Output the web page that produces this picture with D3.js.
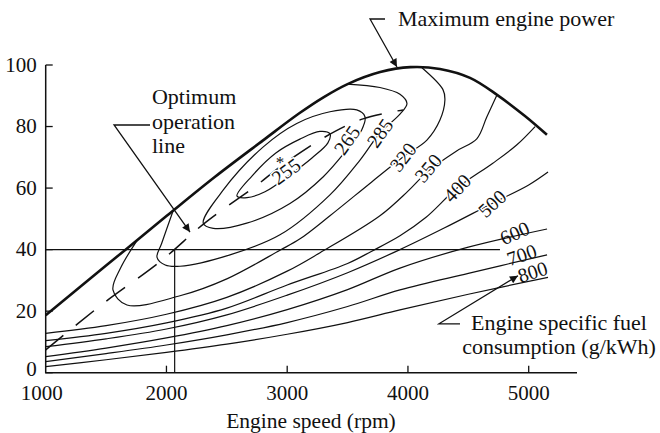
<!DOCTYPE html>
<html><head><meta charset="utf-8">
<script src="https://cdn.jsdelivr.net/npm/d3@7"></script>
<style>
body{margin:0;background:#fff}
svg{display:block}
text{font-family:"Liberation Serif","Times New Roman",serif;fill:#111}
</style></head><body>
<svg id="chart" width="660" height="433"></svg>
<script>
// ---- data (engine speed rpm, % of power) ----
const xTicks = [1000, 2000, 3000, 4000, 5000];
const yTicks = [0, 20, 40, 60, 80, 100];

const maxPower = [[1000,18.7],[1500,34.8],[2000,50.9],[2400,63.6],[2800,75.5],[3100,84.3],[3300,89.5],[3500,93.8],[3770,97.7],[4020,99.3],[4265,98.7],[4514,95.8],[4738,90.3],[4969,83.4],[5151,77.3]];

const optimumLine = [[1000,7.4],[1450,21.7],[1963,36.6],[2319,48.7],[2750,61],[2940,66.9],[3313,76.6],[3628,82.5],[3959,85.4]];

const c255 = [[2584,57.4],[2708,63.9],[2906,71.4],[3105,75.9],[3271,78.4],[3354,77.6],[3337,74.7],[3205,69.8],[3023,64.3],[2816,58.8],[2667,56.9]];
const c265 = [[2305,48.6],[2471,59.4],[2802,73.4],[3079,81],[3354,84.8],[3576,85.4],[3644,83.2],[3617,78.9],[3493,72.4],[3299,63.7],[3023,55],[2665,48.6],[2388,46.9]];
const c285 = [[2056,52.7],[1960,42],[1922,37.5],[1990,35],[2112,34.6],[2526,38.3],[2940,44.8],[3354,57.8],[3603,69.1],[3768,77.9],[3934,84],[3992,87.5],[3934,90.5],[3768,92.7],[3495,93.8]];
const c320 = [[1757,43],[1620,34],[1557,26.9],[1673,22],[2112,25],[2500,30.5],[2940,39.8],[3106,43.5],[3354,51],[3700,62],[3959,70.1],[4157,75.6],[4265,82.1],[4306,88.6],[4290,92],[4116,99.1]];
const c350 = [[1000,12.8],[1500,15.3],[2000,19],[2500,24.5],[3000,33],[3272,39],[3768,51],[4000,59],[4167,65.5],[4400,72],[4570,76],[4652,83],[4738,90.3]];
const c400 = [[1000,10.4],[1500,12.8],[2000,16.2],[2500,21],[3000,28.5],[3500,35.5],[3700,39.5],[3934,44.5],[4150,50.5],[4407,60],[4700,68],[4900,74],[5053,80]];
const c500 = [[1000,8.45],[1500,11],[2000,14.2],[2500,18.8],[3000,25.2],[3500,32.5],[3934,40],[4300,47],[4697,55],[5000,61],[5160,65.2]];
const c600 = [[1000,5.2],[1500,8],[2000,11.3],[2500,15.3],[3000,20.5],[3500,27],[3934,34],[4500,40.8],[5152,46.7]];
const c700 = [[1000,3.6],[1500,6.2],[2000,9],[2500,12.3],[3000,16.3],[3500,21.5],[3934,26.9],[4500,32.3],[5152,38.3]];
const c800 = [[1000,1.95],[1500,4.2],[2000,6.6],[2500,9.3],[3000,12.5],[3500,16.3],[3934,20.4],[4500,25.5],[5160,31]];

const closedContours = [c255, c265];
const openContours = [c285, c320, c350, c400, c500, c600, c700, c800];

// inline labels (break the curve) and labels sitting above the curve
const inlineLabels = ["255","265","285","320","350","400","500"];
const inlineAnchors = [[2990,65.5],[3495,75.6],[3768,77.9],[3959,70.1],[4167,66.5],[4407,60],[4697,55]];
const inlineAngles = [-36,-55,-55,-52,-50,-46,-42];
const sideLabels = ["600","700","800"];
const sideAnchors = [[4884,45.4],[4942,38.3],[5033,32.8]];
const sideAngles = [-24,-19,-18];

const refPoint = [2068, 40];
const starPoint = [2940, 66.6];

const annoTexts = [
  {lines:["Maximum engine power"], at:[3918,112.7], anchor:"start"},
  {lines:["Optimum","operation","line"], at:[1880,87.3], anchor:"start"},
  {lines:["Engine specific fuel","consumption (g/kWh)"], at:[5251,13.9], anchor:"middle"}
];
const leaders = [
  [[3810,114.95],[3686,114.95],[3909,99.35]],
  [[1864,80.5],[1566,80.5],[2195,45.7]],
  [[4431,15.9],[4257,15.9],[4911,31.5]]
];

// ---- drawing ----
const svg = d3.select("#chart");
const x = d3.scaleLinear().domain([1000, 5400]).range([45.7, 577]);
const y = d3.scaleLinear().domain([0, 100]).range([372.7, 65]);
const line = d3.line().x(d=>x(d[0])).y(d=>y(d[1])).curve(d3.curveCatmullRom.alpha(0.5));
const closed = d3.line().x(d=>x(d[0])).y(d=>y(d[1])).curve(d3.curveCatmullRomClosed.alpha(0.5));
const poly = d3.line().x(d=>x(d[0])).y(d=>y(d[1]));
const ink = "#111";

svg.append("defs").append("marker").attr("id","arr").attr("viewBox","0 0 10 10")
  .attr("refX",10).attr("refY",5).attr("markerWidth",12).attr("markerHeight",8)
  .attr("markerUnits","userSpaceOnUse").attr("orient","auto")
  .append("path").attr("d","M0,0L10,5L0,10Z").attr("fill",ink);

const g = svg.append("g");
// reference lines at the 40 % operating point
g.append("path").attr("d", poly([[1000,refPoint[1]],[4762,refPoint[1]]])).attr("stroke",ink).attr("stroke-width",1.2).attr("fill","none");
g.append("path").attr("d", poly([[refPoint[0],0],refPoint])).attr("stroke",ink).attr("stroke-width",1.2).attr("fill","none");

closedContours.forEach(c=>g.append("path").attr("d",closed(c)).attr("fill","none").attr("stroke",ink).attr("stroke-width",1.2));
openContours.forEach(c=>g.append("path").attr("d",line(c)).attr("fill","none").attr("stroke",ink).attr("stroke-width",1.2));

g.append("path").attr("d",line(optimumLine)).attr("fill","none").attr("stroke",ink).attr("stroke-width",1.5).attr("stroke-dasharray","23,16");
g.append("path").attr("d",line(maxPower)).attr("fill","none").attr("stroke",ink).attr("stroke-width",2.6);

// contour labels
inlineLabels.forEach((t,i)=>{
  g.append("text").attr("transform",`translate(${x(inlineAnchors[i][0])},${y(inlineAnchors[i][1])}) rotate(${inlineAngles[i]})`)
   .attr("text-anchor","middle").attr("dy","0.35em").attr("font-size",20)
   .attr("stroke","#fff").attr("stroke-width",3).attr("paint-order","stroke").text(t);
});
sideLabels.forEach((t,i)=>{
  g.append("text").attr("transform",`translate(${x(sideAnchors[i][0])},${y(sideAnchors[i][1])}) rotate(${sideAngles[i]})`)
   .attr("text-anchor","middle").attr("dy","0.35em").attr("font-size",20).text(t);
});
g.append("text").attr("x",x(starPoint[0])).attr("y",y(starPoint[1])).attr("text-anchor","middle").attr("font-size",17).text("*");

// axes
const ax = svg.append("g");
ax.append("path").attr("d",poly([[1000,100],[1000,0],[5400,0]])).attr("fill","none").attr("stroke",ink).attr("stroke-width",1.5);
yTicks.forEach(t=>{
  ax.append("line").attr("x1",x(1000)).attr("x2",x(1000)+7).attr("y1",y(t)).attr("y2",y(t)).attr("stroke",ink).attr("stroke-width",1.3);
  ax.append("text").attr("x",x(1000)-9).attr("y",y(t)).attr("dy",t===0?"0.17em":"0.32em").attr("text-anchor","end").attr("font-size",21).text(t);
});
xTicks.forEach(t=>{
  if (t>1000) ax.append("line").attr("x1",x(t)).attr("x2",x(t)).attr("y1",y(0)).attr("y2",y(0)-7).attr("stroke",ink).attr("stroke-width",1.3);
  ax.append("text").attr("x",x(t)-(t===1000?4:0)).attr("y",y(0)+27).attr("text-anchor","middle").attr("font-size",21).text(t);
});
ax.append("text").attr("x",311).attr("y",y(0)+55.5).attr("text-anchor","middle").attr("font-size",21.5).text("Engine speed (rpm)");

// annotations
leaders.forEach(l=>g.append("path").attr("d",poly(l)).attr("fill","none").attr("stroke",ink).attr("stroke-width",1.3).attr("marker-end","url(#arr)"));
annoTexts.forEach(a=>{
  const t = svg.append("text").attr("x",x(a.at[0])).attr("y",y(a.at[1])).attr("text-anchor",a.anchor).attr("font-size",22);
  a.lines.forEach((s,i)=>t.append("tspan").attr("x",x(a.at[0])).attr("dy",i?24.5:0).text(s));
});
</script></body></html>
